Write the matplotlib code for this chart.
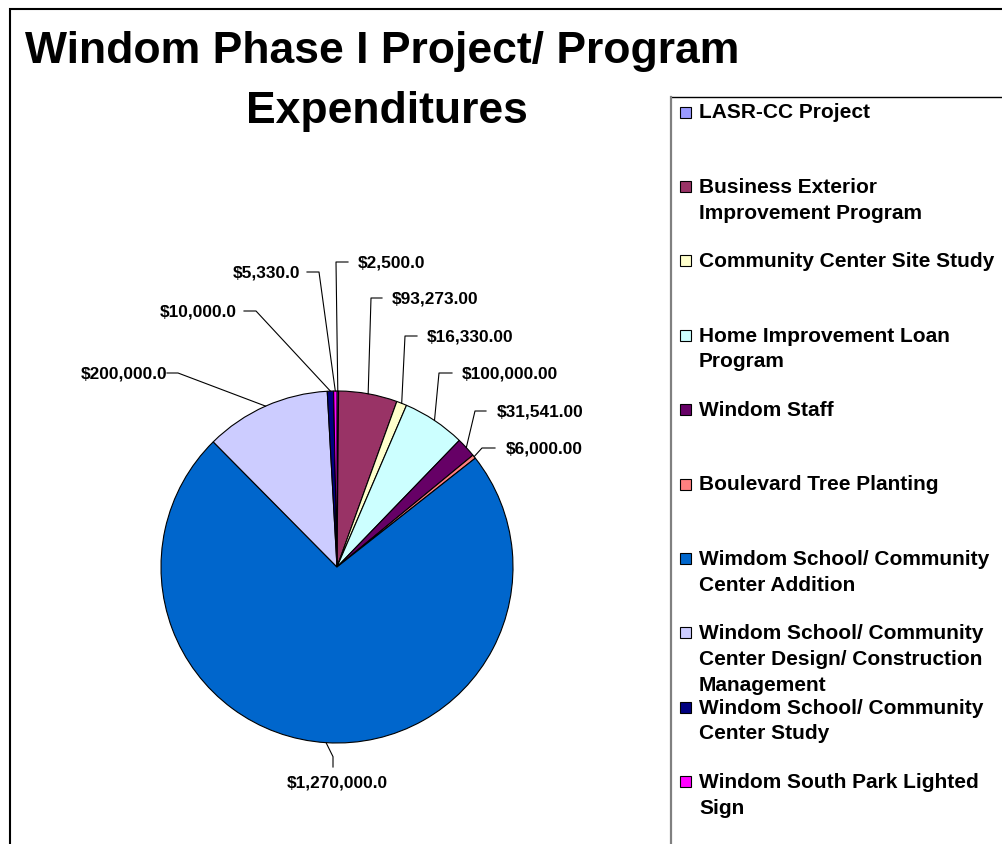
"""Windom Phase I project / program expenditures - pie chart with leader labels."""
import numpy as np
import matplotlib
matplotlib.use("Agg")
import matplotlib.pyplot as plt  # noqa: E402
from matplotlib import font_manager  # noqa: E402

plt.rcParams["font.family"] = ["Liberation Sans", "DejaVu Sans"]
plt.rcParams["font.weight"] = "bold"

# ---- data (clockwise from 12 o'clock) ----
categories = [
    "LASR-CC Project",
    "Business Exterior\nImprovement Program",
    "Community Center Site Study",
    "Home Improvement Loan\nProgram",
    "Windom Staff",
    "Boulevard Tree Planting",
    "Wimdom School/ Community\nCenter Addition",
    "Windom School/ Community\nCenter Design/ Construction\nManagement",
    "Windom School/ Community\nCenter Study",
    "Windom South Park Lighted\nSign",
]
amounts = [2500, 93273, 16330, 100000, 31541, 6000, 1270000, 200000, 10000, 5330]
decimals = [1, 2, 2, 2, 2, 2, 1, 1, 1, 1]
colors = ["#9999FF", "#993366", "#FFFFCC", "#CCFFFF", "#660066",
          "#FF8080", "#0066CC", "#CCCCFF", "#000080", "#FF00FF"]

# ---- layout (pixel coords, y down) ----
W, H = 1002, 845
PIE_CENTER = (337, 568)
PIE_RADIUS = 176
# text x, text y, ha, elbow x, hook end x
label_layout = [
    (358, 263, "left", 336, 348),
    (392, 299, "left", 371, 382),
    (427, 337, "left", 405, 417),
    (462, 374, "left", 439, 452),
    (497, 412, "left", 475, 486),
    (506, 449, "left", 482, 495),
    (337, 783, "center", 333, 333),
    (167, 374, "right", 178, 167),
    (237, 312, "right", 256, 244),
    (300, 273, "right", 319, 307),
]

# the title in the original is a tall, slightly condensed Arial
installed = {f.name for f in font_manager.fontManager.ttflist}
if "Liberation Sans Narrow" in installed:
    title_font, title_size = ["Liberation Sans Narrow", "Liberation Sans"], 39
else:
    title_font, title_size = ["Liberation Sans", "DejaVu Sans"], 32

fig = plt.figure(figsize=(W / 100, H / 100), dpi=100)
ax = fig.add_axes([0, 0, 1, 1])

wedges, _ = ax.pie(amounts, colors=colors, startangle=-90, counterclock=True,
                   center=PIE_CENTER, radius=PIE_RADIUS, frame=True,
                   wedgeprops=dict(edgecolor="black", linewidth=0.8))
ax.set_xlim(0, W)
ax.set_ylim(H, 0)
ax.set_aspect("equal")
ax.axis("off")

# leader lines + value labels
for w, v, d, (tx, ty, ha, ex, hx) in zip(wedges, amounts, decimals, label_layout):
    mid = np.deg2rad((w.theta1 + w.theta2) / 2)
    axp = w.center[0] + w.r * np.cos(mid)
    ayp = w.center[1] + w.r * np.sin(mid)
    text = f"${v:,.{d}f}"
    if ha == "center":
        ax.plot([axp, ex, hx], [ayp, ayp + 14, ty - 15], color="black", lw=0.8)
    else:
        ax.plot([axp, ex, hx], [ayp, ty, ty], color="black", lw=0.8)
    ax.text(tx, ty, text, ha=ha, va="center", fontsize=12.4, fontweight="bold")

# title
ax.text(382, 51, "Windom Phase I Project/ Program", ha="center", va="center",
        fontsize=title_size, fontweight="bold", family=title_font)
ax.text(387, 111, "Expenditures", ha="center", va="center",
        fontsize=title_size, fontweight="bold", family=title_font)

# outer chart border (cut off at right / bottom)
ax.plot([10, 10, W + 5], [H + 5, 10, 10], color="black", lw=1.5, solid_joinstyle="miter")

# legend box (cut off at right / bottom)
ax.plot([671, W + 5], [98, 98], color="black", lw=1)
ax.plot([671, 671], [98, H + 5], color="#808080", lw=1.6)

leg_y0, leg_step, line_step = 113, 74.4, 25.7
for i, (name, c) in enumerate(zip(categories, colors)):
    y = leg_y0 + i * leg_step
    ax.add_patch(plt.Rectangle((680.5, y - 5.5), 11, 11, facecolor=c,
                               edgecolor="black", lw=0.8))
    for j, line in enumerate(name.split("\n")):
        ax.text(699, y + j * line_step, line, ha="left", va="center",
                fontsize=15, fontweight="bold")

fig.savefig("out.png", dpi=100)
